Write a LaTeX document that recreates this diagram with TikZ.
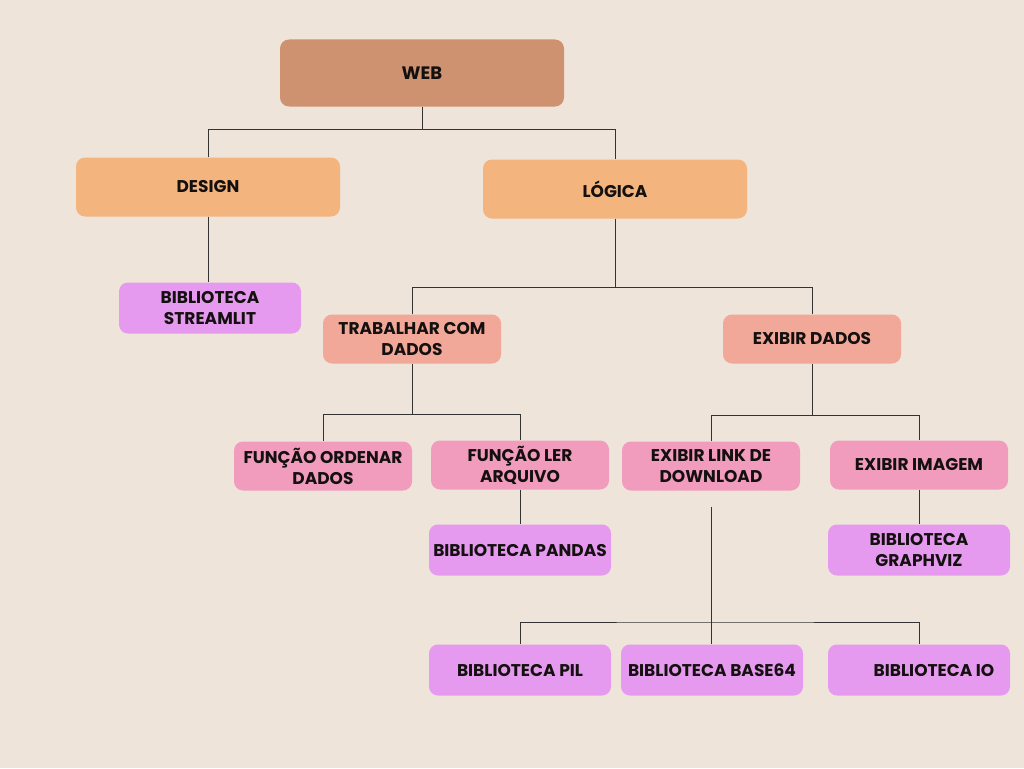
\documentclass[tikz,border=0pt]{standalone}
\usepackage{fontspec}
\setmainfont{Poppins}
\usetikzlibrary{positioning,calc}
\definecolor{paperBeige}{RGB}{238,228,218}
\definecolor{rootBrown}{RGB}{206,146,112}
\definecolor{areaOrange}{RGB}{244,180,126}
\definecolor{taskSalmon}{RGB}{242,168,152}
\definecolor{funcPink}{RGB}{241,156,188}
\definecolor{libViolet}{RGB}{229,154,240}
\definecolor{inkDark}{RGB}{20,16,16}
\tikzset{
	box/.style={
		rounded corners=9pt,
		align=center,
		inner sep=2pt,
		text=inkDark,
		font=\fontsize{17}{21}\selectfont\bfseries,
	},
	rootbox/.style={box, fill=rootBrown, minimum width=284pt, minimum height=67pt},
	areabox/.style={box, fill=areaOrange, minimum width=264pt, minimum height=59pt},
	taskbox/.style={box, fill=taskSalmon, minimum width=178pt, minimum height=49pt},
	funcbox/.style={box, fill=funcPink, minimum width=178pt, minimum height=49pt},
	libbox/.style={box, fill=libViolet, minimum width=182pt, minimum height=51pt},
	link/.style={
		line width=1pt,
		draw=black!80,
	}
}

\begin{document}
\begin{tikzpicture}[x=1pt, y=-1pt]
	% --- Canvas ---
	\fill[paperBeige] (0,0) rectangle (1024,768);
	\useasboundingbox (0,0) rectangle (1024,768);

	% --- Top levels ---
	\node[rootbox, font=\fontsize{18}{21}\selectfont\bfseries] (web) at (422,73) {WEB};
	\node[areabox] (design) at (208,187) {DESIGN};
	\node[areabox] (logica) at (615,189) {LÓGICA};
	\node[libbox] (streamlit) at (210,308) {BIBLIOTECA\\STREAMLIT};

	% --- Middle row ---
	\node[taskbox] (trabalhar) at (412,339) {TRABALHAR COM\\DADOS};
	\node[taskbox] (exibir) at (812,339) {EXIBIR DADOS};

	% --- Functions ---
	\node[funcbox] (ordenar) at (323,466) {FUNÇÃO ORDENAR\\DADOS};
	\node[funcbox] (ler) at (520,465) {FUNÇÃO LER\\ARQUIVO};
	\node[funcbox] (download) at (711,466) {EXIBIR LINK DE\\DOWNLOAD};
	\node[funcbox] (imagem) at (919,465) {EXIBIR IMAGEM};

	% --- Libraries ---
	\node[libbox] (pandas) at (520,550) {BIBLIOTECA PANDAS};
	\node[libbox] (graphviz) at (919,550) {BIBLIOTECA\\GRAPHVIZ};
	\node[libbox] (pil) at (520,670) {BIBLIOTECA PIL};
	\node[libbox] (base64) at (712,670) {BIBLIOTECA BASE64};
	\node[libbox] (io) at (919,670) {\hspace*{30pt}BIBLIOTECA IO};

	% --- Links ---
	\draw[link] (web.south) -- ++(0,23) coordinate (busA);
	\draw[link] (design.north) |- (busA) -| (logica.north);
	\draw[link] (design.south) -- (design.south |- streamlit.north);

	\draw[link] (logica.south) -- ++(0,69) coordinate (busB);
	\draw[link] (trabalhar.north) |- (busB) -| (exibir.north);

	\draw[link] (trabalhar.south) -- ++(0,51) coordinate (busC);
	\draw[link] (ordenar.north) |- (busC) -| (ler.north);
	\draw[link] (ler.south) -- (pandas.north);

	\draw[link] (exibir.south) -- ++(0,52) coordinate (busD);
	\draw[link] (download.north) |- (busD) -| (imagem.north);
	\draw[link] (imagem.south) -- (graphviz.north);

	% free end below the download box (gap as in the sketch)
	\coordinate (dlFoot) at ($(download.south)+(0,16)$);
	\draw[link] (dlFoot) -- (dlFoot |- 0,622) coordinate (busE);
	\draw[link] (pil.north) |- (busE) -| (io.north);
	\draw[link] (busE) -- (busE |- base64.north);
\end{tikzpicture}
\end{document}
